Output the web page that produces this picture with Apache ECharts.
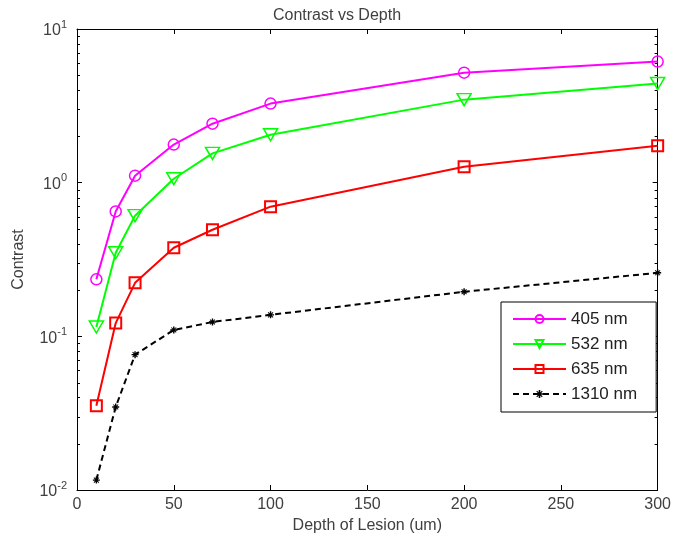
<!DOCTYPE html>
<html>
<head>
<meta charset="utf-8">
<title>Contrast vs Depth</title>
<script src="https://cdn.jsdelivr.net/npm/echarts@6/dist/echarts.min.js"></script>
<style>
  html, body { margin: 0; padding: 0; background: #fff; }
  #chart { width: 674px; height: 543px; }
</style>
</head>
<body>
<div id="chart"></div>
<script>
// data
const depth = [10, 20, 30, 50, 70, 100, 200, 300]
const c405 = [0.235, 0.65, 1.11, 1.77, 2.42, 3.27, 5.2, 6.14]
const c532 = [0.115, 0.35, 0.61, 1.06, 1.55, 2.05, 3.47, 4.42]
const c635 = [0.0353, 0.122, 0.223, 0.377, 0.494, 0.698, 1.27, 1.74]
const c1310 = [0.0116, 0.0347, 0.076, 0.11, 0.124, 0.138, 0.195, 0.259]
const seriesNames = ['405 nm', '532 nm', '635 nm', '1310 nm']
const xTicks = { min: 0, max: 300, interval: 50 }
const yRange = { min: 0.01, max: 10 }

const font = "'Liberation Sans', Arial, sans-serif"
const textColor = '#404040'
const asterisk = 'path://M4,0h2v10h-2z M0,4h10v2h-10z M1,2L2,1L9,8L8,9z M8,1L9,2L2,9L1,8z'

function pairs(ys) {
  return depth.map((x, i) => [x, ys[i]])
}

function expLabel(v) {
  const e = Math.round(Math.log10(v))
  return '{b|10}{e|' + e + '}'
}

const chart = echarts.init(document.getElementById('chart'))

const grid = { left: 77, right: 13, top: 29, bottom: 53 }

chart.setOption({
  animation: false,
  backgroundColor: '#fff',
  textStyle: { fontFamily: font },
  title: {
    text: 'Contrast vs Depth',
    left: 'center',
    top: 3,
    textStyle: { fontFamily: font, fontSize: 16, fontWeight: 'normal', color: textColor }
  },
  grid: grid,
  legend: {
    data: seriesNames,
    orient: 'vertical',
    left: 501,
    top: 302,
    backgroundColor: '#fff',
    borderColor: '#000',
    borderWidth: 1,
    borderRadius: 0,
    padding: [7, 19, 8, 11],
    itemWidth: 53,
    itemHeight: 10,
    itemGap: 5,
    textStyle: { fontFamily: font, fontSize: 17, color: '#222', lineHeight: 20 }
  },
  xAxis: [
    {
      type: 'value',
      min: xTicks.min,
      max: xTicks.max,
      interval: xTicks.interval,
      name: 'Depth of Lesion (um)',
      nameLocation: 'middle',
      nameGap: 26,
      nameTextStyle: { fontFamily: font, fontSize: 16, color: textColor },
      axisLine: { onZero: false, lineStyle: { color: '#000', width: 1 } },
      axisTick: { inside: true, length: 5, lineStyle: { color: '#000' } },
      axisLabel: { fontFamily: font, fontSize: 16, color: textColor, margin: 7 },
      splitLine: { show: false }
    },
    {
      type: 'value',
      position: 'top',
      min: xTicks.min,
      max: xTicks.max,
      interval: xTicks.interval,
      axisLine: { onZero: false, lineStyle: { color: '#000', width: 1 } },
      axisTick: { inside: true, length: 5, lineStyle: { color: '#000' } },
      axisLabel: { show: false },
      splitLine: { show: false }
    }
  ],
  yAxis: [
    {
      type: 'log',
      logBase: 10,
      min: yRange.min,
      max: yRange.max,
      name: 'Contrast',
      nameLocation: 'middle',
      nameGap: 50,
      nameTextStyle: { fontFamily: font, fontSize: 16, color: textColor },
      axisLine: { onZero: false, lineStyle: { color: '#000', width: 1 } },
      axisTick: { inside: true, length: 5, lineStyle: { color: '#000' } },
      axisLabel: {
        margin: 10,
        formatter: expLabel,
        rich: {
          b: { fontFamily: font, fontSize: 16, color: textColor, padding: [4, 0, 0, 0] },
          e: { fontFamily: font, fontSize: 11, color: textColor, verticalAlign: 'top', padding: [0, 0, 8, 0] }
        }
      },
      splitLine: { show: false }
    },
    {
      type: 'log',
      logBase: 10,
      position: 'right',
      min: yRange.min,
      max: yRange.max,
      axisLine: { onZero: false, lineStyle: { color: '#000', width: 1 } },
      axisTick: { inside: true, length: 5, lineStyle: { color: '#000' } },
      axisLabel: { show: false },
      splitLine: { show: false }
    }
  ],
  series: [
    {
      name: seriesNames[0],
      type: 'line',
      data: pairs(c405),
      symbol: 'circle',
      symbolSize: 11,
      lineStyle: { color: '#ff00ff', width: 2 },
      itemStyle: { color: 'rgba(255,255,255,0)', borderColor: '#ff00ff', borderWidth: 1.5 }
    },
    {
      name: seriesNames[1],
      type: 'line',
      data: pairs(c532),
      symbol: 'triangle',
      symbolRotate: 180,
      symbolSize: [14, 12],
      lineStyle: { color: '#00ff00', width: 2 },
      itemStyle: { color: 'rgba(255,255,255,0)', borderColor: '#00ff00', borderWidth: 1.5 }
    },
    {
      name: seriesNames[2],
      type: 'line',
      data: pairs(c635),
      symbol: 'rect',
      symbolSize: 11,
      lineStyle: { color: '#ff0000', width: 2 },
      itemStyle: { color: 'rgba(255,255,255,0)', borderColor: '#ff0000', borderWidth: 2 }
    },
    {
      name: seriesNames[3],
      type: 'line',
      data: pairs(c1310),
      symbol: asterisk,
      symbolSize: 7,
      lineStyle: { color: '#000', width: 2, type: [6, 4] },
      itemStyle: { color: '#000' }
    }
  ]
})

// minor log ticks (2..9 per decade) on left and right frame
function drawMinorTicks() {
  const xl = chart.convertToPixel({ xAxisIndex: 0 }, xTicks.min)
  const xr = chart.convertToPixel({ xAxisIndex: 0 }, xTicks.max)
  const els = []
  for (let d = yRange.min; d < yRange.max; d *= 10) {
    for (let k = 2; k <= 9; k++) {
      const y = Math.round(chart.convertToPixel({ yAxisIndex: 0 }, d * k)) + 0.5
      els.push({ type: 'line', shape: { x1: xl, y1: y, x2: xl + 3, y2: y }, style: { stroke: '#000', lineWidth: 1 } })
      els.push({ type: 'line', shape: { x1: xr - 3, y1: y, x2: xr, y2: y }, style: { stroke: '#000', lineWidth: 1 } })
    }
  }
  chart.setOption({ graphic: els })
}
drawMinorTicks()
</script>
</body>
</html>
